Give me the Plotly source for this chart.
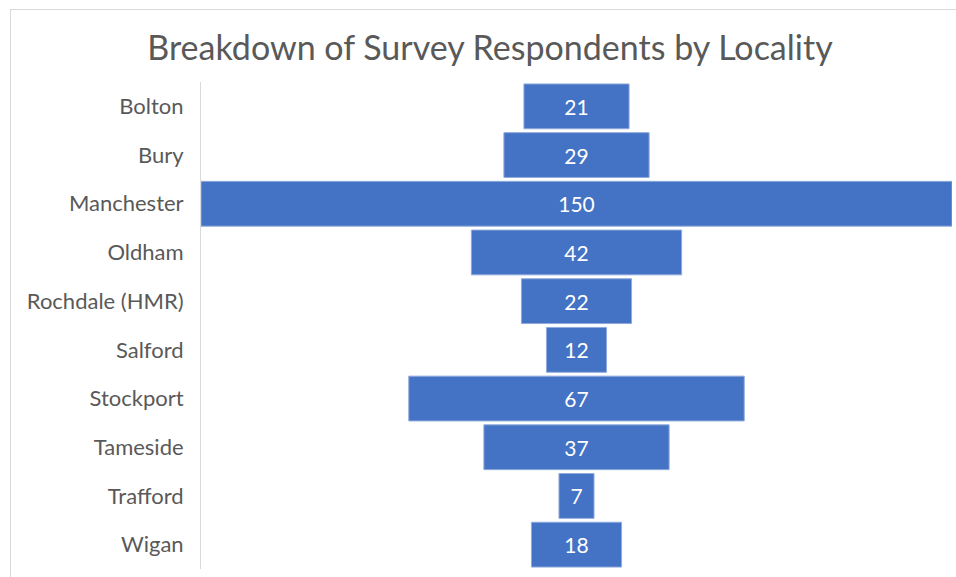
import plotly.graph_objects as go

localities = ["Bolton", "Bury", "Manchester", "Oldham", "Rochdale (HMR)",
              "Salford", "Stockport", "Tameside", "Trafford", "Wigan"]
respondents = [21, 29, 150, 42, 22, 12, 67, 37, 7, 18]
title_text = "Breakdown of Survey Respondents by Locality"

W, H = 956, 577
L, R, T, B = 201, 4, 82, 8
pw, ph = W - L - R, H - T - B

def px(x):
    return (x - L) / pw

def py(y):
    return 1 - (y - T) / ph

fig = go.Figure(go.Funnel(
    y=localities,
    x=respondents,
    textinfo="value",
    textposition="inside",
    textfont=dict(color="white", size=21, family="Lato"),
    marker=dict(color="#4472C4", line=dict(color="#8FAADC", width=1)),
    connector=dict(visible=False),
    hoverinfo="y+x",
))

fig.update_layout(
    width=W, height=H,
    margin=dict(l=L, r=R, t=T, b=B, autoexpand=False),
    paper_bgcolor="white",
    plot_bgcolor="white",
    funnelgap=0.08,
    showlegend=False,
    font=dict(family="Lato", color="#595959"),
    title=dict(text=title_text, x=490 / W, xanchor="center",
               y=1 - 48 / H, yanchor="middle",
               font=dict(size=34, color="#595959", family="Lato")),
    xaxis=dict(visible=False, range=[-75, 75], fixedrange=True),
    yaxis=dict(showline=True, linecolor="#D9D9D9", linewidth=1,
               showgrid=False, ticks="", ticklabelstandoff=12,
               automargin=False,
               tickfont=dict(size=22, color="#595959", family="Lato")),
    shapes=[
        dict(type="line", xref="paper", yref="paper",
             x0=px(10), x1=px(W + 5), y0=py(9.5), y1=py(9.5),
             line=dict(color="#D9D9D9", width=1)),
        dict(type="line", xref="paper", yref="paper",
             x0=px(10.5), x1=px(10.5), y0=py(9.5), y1=py(H + 5),
             line=dict(color="#D9D9D9", width=1)),
    ],
)

fig.write_html(
    "out.html",
    config={"displayModeBar": False},
    post_script="document.body.style.margin='0';document.body.style.overflow='hidden';",
)
